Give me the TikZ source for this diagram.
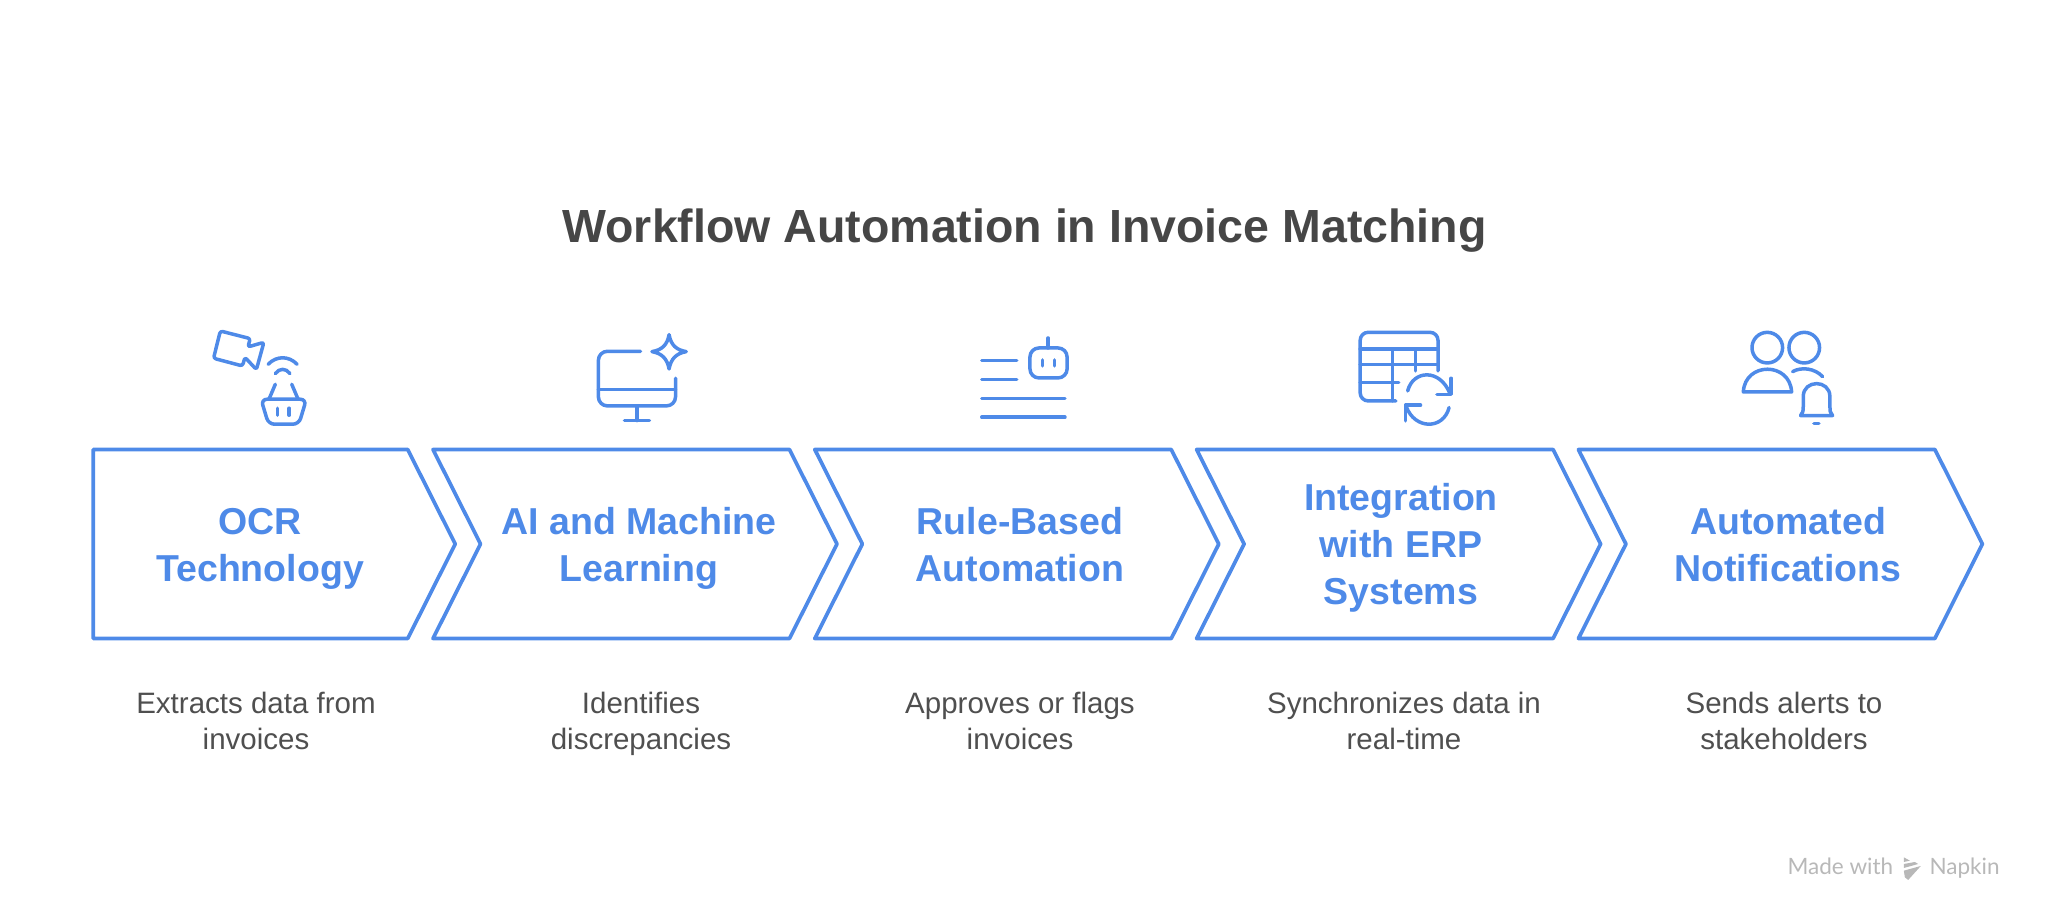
\documentclass[tikz,border=0pt]{standalone}
\usepackage{fontspec}
\setmainfont{Liberation Sans}
\newfontfamily\markfont{Lato}
\usetikzlibrary{positioning,shapes.symbols}
\definecolor{flowblue}{HTML}{4E8AE8}
\definecolor{titlegray}{HTML}{464646}
\definecolor{descgray}{HTML}{4F4F4F}
\definecolor{markgray}{HTML}{B8B8B8}

\begin{document}
\begin{tikzpicture}[x=1pt,y=-1pt,node distance=381.8pt,
    stage/.style={draw=flowblue,line width=3.7pt,line join=round,shape=signal,signal to=east,signal pointer angle=126.6,minimum height=189pt,minimum width=404pt,inner sep=0pt,outer sep=0pt},
    stage name/.style={anchor=base,text=flowblue,align=center,font=\fontsize{37.5}{47}\selectfont\bfseries},
    desc/.style={anchor=base,text=descgray,align=center,font=\fontsize{29.5}{36}\selectfont},
    brand/.style={anchor=base west,text=markgray,font=\markfont\fontsize{22.5}{25}\selectfont},
    icon/.style={draw=flowblue,line width=3.5pt,line cap=round,line join=round}]

    \useasboundingbox (0,0) rectangle (2048,922);

    \node[anchor=base,text=titlegray,font=\fontsize{46.5}{54}\selectfont\bfseries] (title) at (1024.5,242) {Workflow Automation in Invoice Matching};

    \node[stage,minimum width=362pt] (ocr) at (250.5,544) {};
    \node[stage,signal from=west] (ai) at (635,544) {};
    \node[stage,signal from=west] (rule) [right of = ai] {};
    \node[stage,signal from=west] (erp) [right of = rule] {};
    \node[stage,signal from=west] (notify) [right of = erp] {};

    \node[stage name] (ocr name) at (260,581) {OCR\\Technology};
    \node[stage name] (ai name) at (639,581) {AI and Machine\\Learning};
    \node[stage name] (rule name) at (1020,581) {Rule-Based\\Automation};
    \node[stage name] (erp name) at (1401,604) {Integration\\with ERP\\Systems};
    \node[stage name] (notify name) at (1788,581) {Automated\\Notifications};

    \node[desc] (ocr text) at (256,749) {Extracts data from\\invoices};
    \node[desc] (ai text) at (641,749) {Identifies\\discrepancies};
    \node[desc] (rule text) at (1020,749) {Approves or flags\\invoices};
    \node[desc] (erp text) at (1404,749) {Synchronizes data in\\real-time};
    \node[desc] (notify text) at (1784,749) {Sends alerts to\\stakeholders};

    \node[brand] (made) at (1784,874) {Made with};
    \node[brand] (napkin) at (1926,874) {Napkin};

    % ocr icon
    \begin{scope}[shift={(180,300)},x=0.357pt,y=-0.333pt]
        \draw[icon,rounded corners=2.5pt] (113,93) -- (197,116) -- (190,141) -- (235,127) -- (214,209) -- (182,172) -- (175,198) -- (94,175) -- cycle;
        \draw[icon] (247,193) .. controls (270,167) and (305,167) .. (328,193);
        \draw[icon] (267,221) .. controls (278,204) and (297,204) .. (308,221);
        \draw[icon] (267,253) -- (250,296);
        \draw[icon] (313,253) -- (330,296);
        \draw[icon,rounded corners=6pt] (227,298) -- (354,298) -- (333,373) -- (248,373) -- cycle;
        \draw[icon] (273,325) -- (273,346);
        \draw[icon] (306,325) -- (306,346);
    \end{scope}

    % ai icon
    \begin{scope}[shift={(180,300)},x=0.357pt,y=-0.333pt]
        \draw[icon,rounded corners=9pt] (1290,154) -- (1172,154) -- (1172,318) -- (1388,318) -- (1388,235);
        \draw[icon] (1172,269) -- (1388,269);
        \draw[icon] (1280,318) -- (1280,362);
        \draw[icon] (1245,362) -- (1315,362);
        \draw[icon] (1370,104) .. controls (1375,135) and (1390,150) .. (1418,155) .. controls (1390,160) and (1375,177) .. (1370,207) .. controls (1365,177) and (1350,160) .. (1322,155) .. controls (1350,150) and (1365,135) .. (1370,104) -- cycle;
    \end{scope}

    % rule icon
    \begin{scope}[shift={(940,310)},x=0.357pt,y=-0.333pt]
        \draw[icon] (117,151) -- (215,151);
        \draw[icon] (117,208) -- (215,208);
        \draw[icon] (117,265) -- (350,265);
        \draw[icon] (117,322) -- (350,322);
        \draw[icon,rounded corners=9pt] (252,114) rectangle (356,204);
        \draw[icon] (303,84) -- (303,114);
        \draw[icon] (287,150) -- (287,168);
        \draw[icon] (321,150) -- (321,168);
    \end{scope}

    % erp icon
    \begin{scope}[shift={(940,310)},x=0.357pt,y=-0.333pt]
        \draw[icon,rounded corners=8pt] (1395,183) -- (1395,67) -- (1177,67) -- (1177,273) -- (1277,273);
        \draw[icon] (1177,117) -- (1395,117);
        \draw[icon] (1177,163) -- (1395,163);
        \draw[icon] (1177,218) -- (1285,218);
        \draw[icon] (1267,117) -- (1267,273);
        \draw[icon] (1332,117) -- (1332,183);
        \draw[icon] (1310,243) .. controls (1325,180) and (1400,175) .. (1428,250);
        \draw[icon] (1432,205) -- (1432,253) -- (1392,253);
        \draw[icon] (1426,293) .. controls (1410,360) and (1330,360) .. (1306,290);
        \draw[icon] (1346,286) -- (1304,286) -- (1304,333);
    \end{scope}

    % notify icon
    \begin{scope}[shift={(1720,320)},x=0.333pt,y=-0.333pt]
        \draw[icon] (142,83) circle (15.3pt);
        \draw[icon] (253,83) circle (15.3pt);
        \draw[icon] (70,216) .. controls (75,125) and (210,125) .. (215,216) -- cycle;
        \draw[icon] (218,155) .. controls (245,140) and (285,145) .. (308,170);
        \draw[icon] (242,287) .. controls (250,280) and (250,270) .. (250,260) -- (250,230) .. controls (250,178) and (330,178) .. (330,230) -- (330,260) .. controls (330,270) and (330,280) .. (338,287) -- cycle;
        \draw[icon] (282,311) -- (297,311);
    \end{scope}

    % napkin mark
    \begin{scope}[shift={(1740,840)},x=0.333pt,y=-0.333pt]
        \fill[markgray] (492,52) -- (510,62) -- (492,66) -- cycle;
        \fill[markgray] (492,72) -- (525,66) -- (535,72) -- (492,84) -- cycle;
        \fill[markgray] (492,92) -- (543,78) -- (505,120) -- (495,112) -- cycle;
    \end{scope}
\end{tikzpicture}
\end{document}
